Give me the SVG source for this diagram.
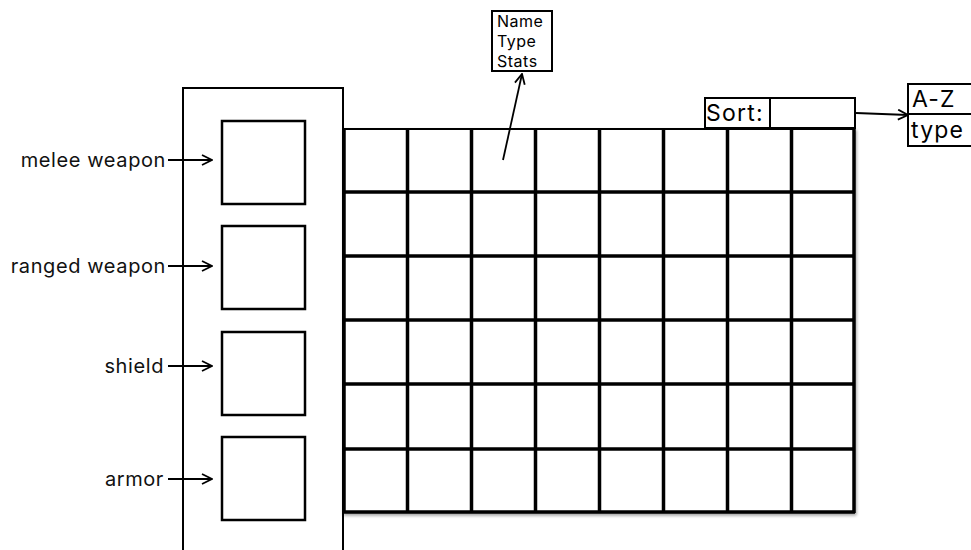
<svg xmlns="http://www.w3.org/2000/svg" width="971" height="550" viewBox="0 0 971 550">
<defs>
<marker id="arr" viewBox="0 0 12 12" refX="11" refY="6" markerWidth="12" markerHeight="12" markerUnits="userSpaceOnUse" orient="auto">
<path d="M1,1 L11,6 L1,11" fill="none" stroke="#000" stroke-width="1.8"/>
</marker>
<filter id="sh" x="-5%" y="-5%" width="110%" height="110%"><feDropShadow dx="1" dy="2" stdDeviation="1.5" flood-opacity="0.35"/></filter>
</defs>
<style>
.lbl{font-family:Inter,"Liberation Sans",sans-serif;font-size:20px;letter-spacing:0.6px;fill:#111}
.box{fill:#fff;stroke:#000;stroke-width:2}
.slot{fill:#fff;stroke:#000;stroke-width:2.5}
.conn{fill:none;stroke:#000;stroke-width:1.8;marker-end:url(#arr)}
.small{font-family:Inter,"Liberation Sans",sans-serif;font-size:16px;letter-spacing:0.5px;fill:#000}
.med{font-family:Inter,"Liberation Sans",sans-serif;font-size:23px;letter-spacing:1.2px;fill:#000}
</style>
<rect width="971" height="550" fill="#fff"/>

<g id="panel">
<rect class="box" x="183" y="88" width="160" height="470"/>
</g>
<g id="slot-melee"><rect class="slot" x="222" y="121" width="83" height="83"/></g>
<g id="slot-ranged"><rect class="slot" x="222" y="226" width="83" height="83"/></g>
<g id="slot-shield"><rect class="slot" x="222" y="332" width="83" height="83"/></g>
<g id="slot-armor"><rect class="slot" x="222" y="437" width="83" height="83"/></g>

<g id="label-melee"><text class="lbl" x="166" y="167" text-anchor="end">melee weapon</text></g>
<g id="label-ranged"><text class="lbl" x="166" y="273" text-anchor="end">ranged weapon</text></g>
<g id="label-shield"><text class="lbl" x="164" y="373" text-anchor="end">shield</text></g>
<g id="label-armor"><text class="lbl" x="164" y="486" text-anchor="end">armor</text></g>

<g id="grid" filter="url(#sh)">
<rect x="343" y="128" width="512" height="385" fill="#fff"/>
<g stroke="#000" stroke-width="3.5">
<line x1="344" y1="128" x2="344" y2="513"/>
<line x1="407.5" y1="128" x2="407.5" y2="513"/>
<line x1="471.5" y1="128" x2="471.5" y2="513"/>
<line x1="535.5" y1="128" x2="535.5" y2="513"/>
<line x1="599.5" y1="128" x2="599.5" y2="513"/>
<line x1="663.5" y1="128" x2="663.5" y2="513"/>
<line x1="727.5" y1="128" x2="727.5" y2="513"/>
<line x1="791.5" y1="128" x2="791.5" y2="513"/>
<line x1="854" y1="128" x2="854" y2="513"/>
<line x1="343" y1="192" x2="855" y2="192"/>
<line x1="343" y1="256" x2="855" y2="256"/>
<line x1="343" y1="320" x2="855" y2="320"/>
<line x1="343" y1="384" x2="855" y2="384"/>
<line x1="343" y1="449" x2="855" y2="449"/>
<line x1="343" y1="512" x2="855" y2="512"/>
</g>
<line x1="343" y1="129" x2="855" y2="129" stroke="#000" stroke-width="2"/>
</g>

<g id="sort">
<rect class="box" x="705" y="98" width="65" height="30"/>
<rect class="box" x="770" y="98" width="85" height="30"/>
<text class="med" x="706" y="121">Sort:</text>
</g>

<g id="sort-options">
<rect class="box" x="908" y="84" width="70" height="30"/>
<rect class="box" x="908" y="114" width="70" height="32"/>
<text class="med" x="912" y="107">A-Z</text>
<text class="med" x="911" y="138">type</text>
</g>

<g id="tooltip">
<rect class="box" x="492" y="11" width="60" height="60"/>
<text class="small" x="497" y="27">Name</text>
<text class="small" x="497" y="47">Type</text>
<text class="small" x="497" y="67">Stats</text>
</g>

<g id="connectors">
<line class="conn" x1="168" y1="160" x2="212" y2="160"/>
<line class="conn" x1="168" y1="266" x2="212" y2="266"/>
<line class="conn" x1="168" y1="366" x2="212" y2="366"/>
<line class="conn" x1="168" y1="479" x2="212" y2="479"/>
<line class="conn" x1="503" y1="160" x2="522" y2="74"/>
<line class="conn" x1="856" y1="113" x2="908" y2="115"/>
</g>
</svg>
